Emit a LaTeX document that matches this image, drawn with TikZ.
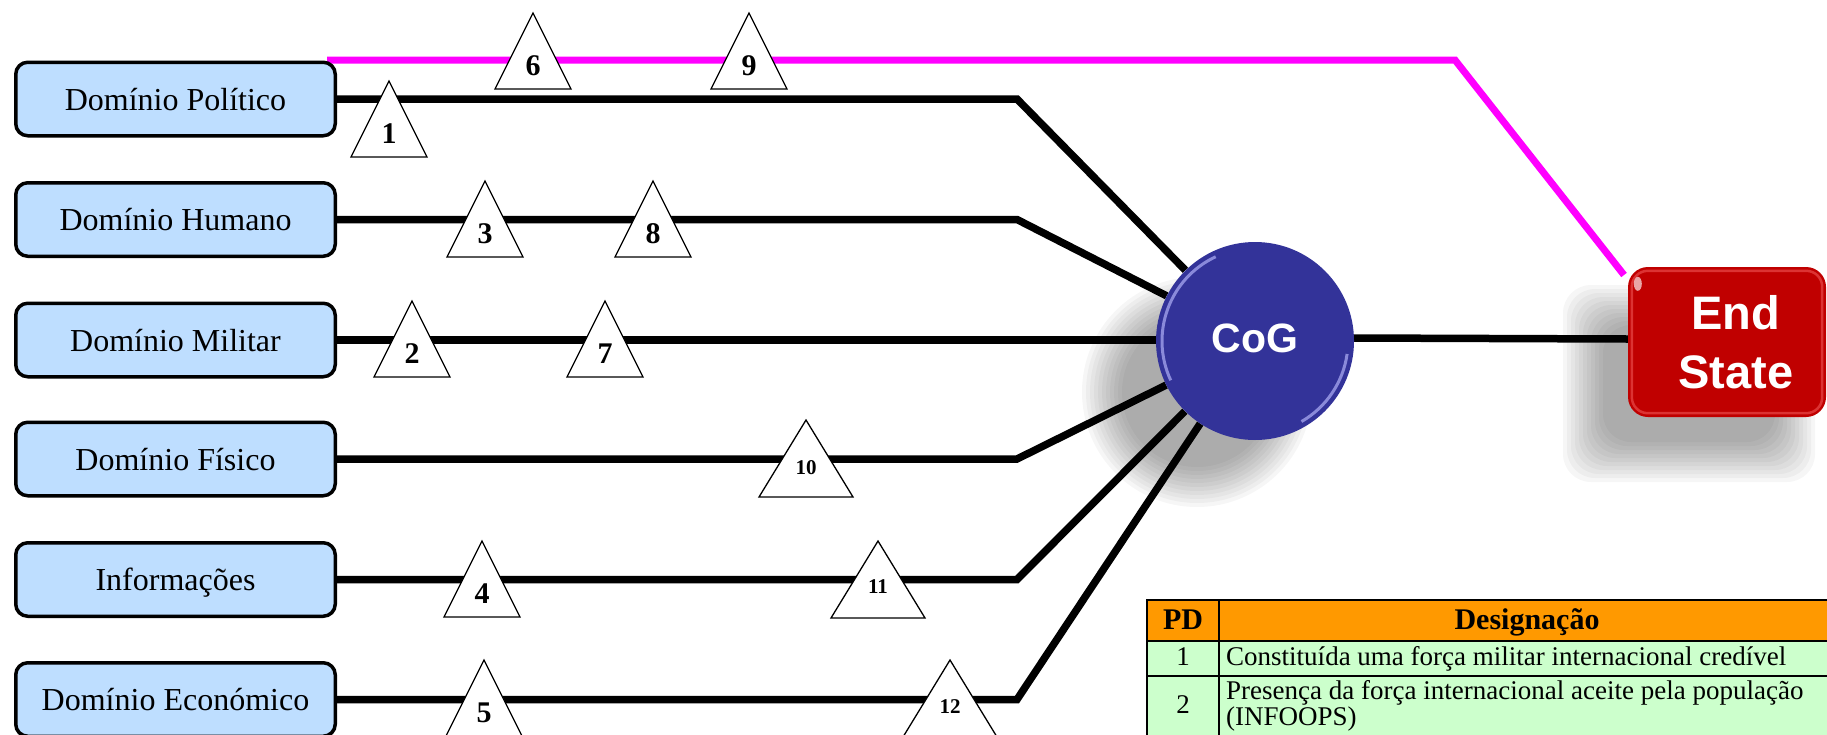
\documentclass[tikz,border=0pt]{standalone}
\usepackage{fontspec}
\setmainfont{Liberation Serif}
\newfontfamily\sanshead{Liberation Sans}
\definecolor{boxblue}{RGB}{190,222,255}
\definecolor{cogblue}{RGB}{51,51,153}
\definecolor{cogrim}{RGB}{160,160,235}
\definecolor{esred}{RGB}{192,0,0}
\definecolor{magline}{RGB}{255,0,255}
\definecolor{hdrorange}{RGB}{255,153,0}
\definecolor{rowgreen}{RGB}{204,255,204}
\pgfdeclarelayer{bg}
\pgfsetlayers{bg,main}
\newcommand{\mytri}[8]{%
  \draw[tri] (#2,#3) -- ++(#4,#5) -- ++(-2*#4,0) -- cycle;
  \node[#7, anchor=base] (#1) at (#2,#3+#6) {#8};}
\tikzset{
  domainbox/.style={draw, line width=3.5pt, rounded corners=12pt, fill=boxblue,
    minimum width=319.5pt, minimum height=73.5pt, inner sep=0pt,
    font=\fontsize{32}{38}\selectfont, text height=22pt, text depth=0pt},
  conn/.style={line width=7.5pt, black},
  pinkline/.style={line width=7pt, magline},
  tri/.style={draw, fill=white, line width=1.3pt, line join=miter},
  numbig/.style={font=\fontsize{30}{30}\selectfont\bfseries, inner sep=0pt},
  numsmall/.style={font=\fontsize{21}{21}\selectfont\bfseries, inner sep=0pt},
  cogstyle/.style={circle, fill=cogblue, minimum size=198pt, inner sep=0pt,
    text=white, font=\sanshead\fontsize{41}{41}\selectfont\bfseries,
    text height=29.4pt, text depth=6pt},
  esstyle/.style={rectangle, rounded corners=20pt, fill=esred, minimum width=198pt,
    minimum height=150pt, inner sep=0pt, text=white, align=center,
    font=\sanshead\fontsize{47}{59}\selectfont\bfseries},
  tbl/.style={line width=2pt, black},
  hdr/.style={font=\fontsize{30}{30}\selectfont\bfseries, inner sep=0pt},
  rowtxt/.style={font=\fontsize{27}{27}\selectfont, inner sep=0pt},
  shadowfill/.style={black, opacity=0.035}
}
\begin{document}
\begin{tikzpicture}[x=1pt,y=-1pt]
\useasboundingbox (0,0) rectangle (1827,734);

% domain boxes
\node[domainbox] (pol) at (175.5,99) {Domínio Político};
\node[domainbox] (hum) at (175.5,219.5) {Domínio Humano};
\node[domainbox] (mil) at (175.5,340) {Domínio Militar};
\node[domainbox] (fis) at (175.5,459) {Domínio Físico};
\node[domainbox] (inf) at (175.5,579.5) {Informações};
\node[domainbox] (eco) at (175.5,699.5) {Domínio Económico};

% CoG and End State
\node[cogstyle] (cog) at (1255,341) {CoG};
\node[esstyle] (es) at (1727,342) {\hspace*{18pt}End\\\hspace*{18pt}State};

% glossy highlights
\draw[cogrim, line width=3pt, opacity=0.8] (cog.center) ++(115:93pt) arc[start angle=115, end angle=205, radius=93pt];
\draw[cogrim, line width=3pt, opacity=0.8] (cog.center) ++(-8:93pt) arc[start angle=-8, end angle=-60, radius=93pt];
\draw[red!55!white, line width=2.5pt, opacity=0.45, rounded corners=16pt] ([shift={(4pt,-4pt)}]es.north west) rectangle ([shift={(-4pt,4pt)}]es.south east);
\fill[white, opacity=0.65] ([shift={(10pt,-17pt)}]es.north west) ellipse[x radius=4pt, y radius=7pt];

\coordinate (bend) at (1017,0);
\coordinate (pk1) at (327,60);
\coordinate (pk2) at (1455,60);
\coordinate (pk3) at (1624,275);

\begin{pgfonlayer}{bg}
  % shadows
  \foreach \r in {75,79,...,115} \fill[shadowfill] (1197,392) circle[radius=\r pt];
  \foreach \d in {0,4,...,40} \fill[shadowfill, rounded corners=28pt] (1563+\d,285+\d) rectangle (1815-\d,482-\d);
  % connectors
  \draw[pinkline] (pk1) -- (pk2) -- (pk3);
  \draw[conn] (pol.east) -- (pol.east -| bend) -- (cog);
  \draw[conn] (hum.east) -- (hum.east -| bend) -- (cog);
  \draw[conn] (mil.east) -- (cog.west |- mil.east);
  \draw[conn] (fis.east) -- (fis.east -| bend) -- (cog);
  \draw[conn] (inf.east) -- (inf.east -| bend) -- (cog);
  \draw[conn] (eco.east) -- (eco.east -| bend) -- (cog);
  \draw[conn] ([yshift=3pt]cog.east) -- ([yshift=3pt]es.west);
\end{pgfonlayer}

% triangles
\mytri{t1}{389}{81}{38}{76}{62}{numbig}{1}
\mytri{t6}{533}{13}{38}{76}{62}{numbig}{6}
\mytri{t9}{749}{13}{38}{76}{62}{numbig}{9}
\mytri{t3}{485}{181}{38}{76}{62}{numbig}{3}
\mytri{t8}{653}{181}{38}{76}{62}{numbig}{8}
\mytri{t2}{412}{301}{38}{76}{62}{numbig}{2}
\mytri{t7}{605}{301}{38}{76}{62}{numbig}{7}
\mytri{t10}{806}{420}{47}{77}{54}{numsmall}{10}
\mytri{t4}{482}{541}{38}{76}{62}{numbig}{4}
\mytri{t11}{878}{541}{47}{77}{52}{numsmall}{11}
\mytri{t5}{484}{660}{38}{76}{62}{numbig}{5}
\mytri{t12}{950}{660}{47}{77}{53}{numsmall}{12}

% table
\fill[hdrorange] (1147,600) rectangle (1840,641);
\fill[rowgreen] (1147,641) rectangle (1840,740);
\draw[tbl] (1840,600) -- (1147,600) -- (1147,740);
\draw[tbl] (1147,641) -- (1840,641);
\draw[tbl] (1147,676) -- (1840,676);
\draw[tbl] (1219,600) -- (1219,740);
\node[hdr, anchor=base] (hpd) at (1183,629) {PD};
\node[hdr, anchor=base] (hdes) at (1527,629) {Designação};
\node[rowtxt, anchor=base] (r1n) at (1183,665) {1};
\node[rowtxt, anchor=base west] (r1t) at (1226,665) {Constituída uma força militar internacional credível};
\node[rowtxt, anchor=base] (r2n) at (1183,713) {2};
\node[rowtxt, anchor=base west] (r2a) at (1226,699) {Presença da força internacional aceite pela população};
\node[rowtxt, anchor=base west] (r2b) at (1226,725) {(INFOOPS)};
\end{tikzpicture}
\end{document}
